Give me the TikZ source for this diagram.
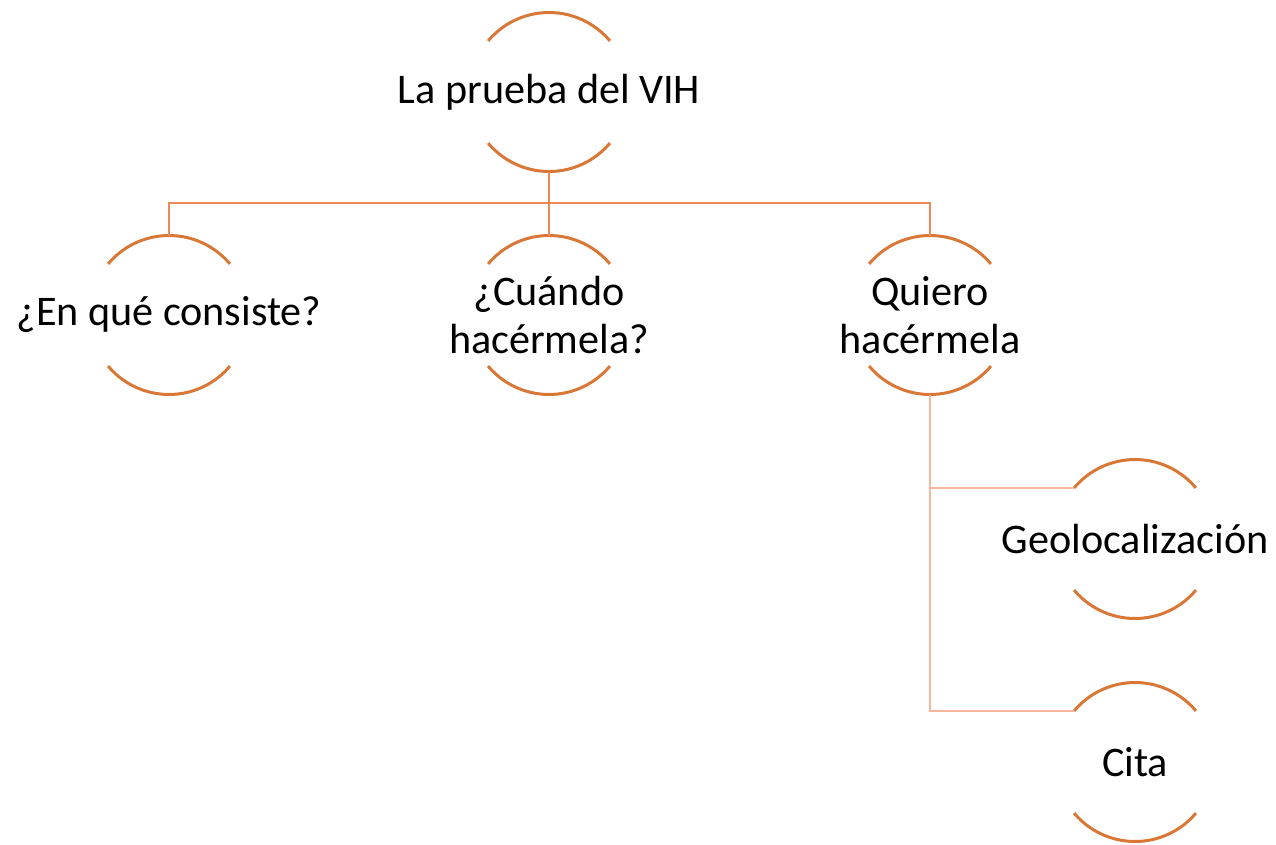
\documentclass[tikz,border=0pt]{standalone}
\usepackage{fontspec}
\setmainfont{Carlito}
\usetikzlibrary{positioning}
\definecolor{rimorange}{RGB}{217,119,55}
\definecolor{linkorange}{RGB}{240,136,86}
\definecolor{linkpeach}{RGB}{246,182,160}
\tikzset{
  ring/.style={circle,minimum size=3.18cm,inner sep=0pt,outer sep=0pt},
  rim/.style={draw=rimorange,line width=1.7pt},
  link/.style={draw=linkorange,line width=1.2pt},
  sublink/.style={draw=linkpeach,line width=1.2pt}
}
\newcommand\ringnode[4]{%
  \node[ring,label={[align=center,font=\fontsize{24}{27}\selectfont]center:{#4}}] (#1) at (#2,#3) {};
  \draw[rim] (#1.140) arc[start angle=140,end angle=40,radius=1.59];
  \draw[rim] (#1.220) arc[start angle=220,end angle=320,radius=1.59]
}
\begin{document}
\begin{tikzpicture}
        \useasboundingbox (0,0) rectangle (25.52,-16.88);
        % The rings
        \ringnode{vih}{10.98}{-1.84}{La prueba del VIH};
        \ringnode{consiste}{3.38}{-6.30}{¿En qué consiste?};
        \ringnode{cuando}{10.98}{-6.30}{¿Cuándo\\hacérmela?};
        \ringnode{quiero}{18.60}{-6.30}{Quiero\\hacérmela};
        \ringnode{geo}{22.70}{-10.78}{Geolocalización};
        \ringnode{cita}{22.70}{-15.24}{Cita};

        % Links
        \coordinate (bus) at (0,-4.06);
        \draw[link] (consiste.north) |- (bus -| quiero.north) -- (quiero.north);
        \draw[link] (vih.south) -- (cuando.north);
        \draw[sublink] (quiero.south) |- (geo.140);
        \draw[sublink] (quiero.south) |- (cita.140);
    \end{tikzpicture}
\end{document}
